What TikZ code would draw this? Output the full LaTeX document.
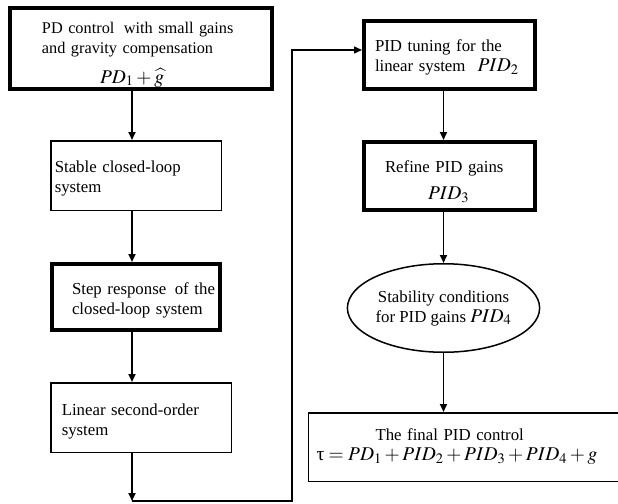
\documentclass[tikz,border=0pt]{standalone}
\usepackage{mathptmx}
\usepackage{fontspec}
\setmainfont{Liberation Serif}
\usepackage{tikz}
\usetikzlibrary{arrows.meta,positioning,shapes}

\newcommand{\mth}[1]{{\fontsize{19.5}{22}\selectfont$#1$}}

\begin{document}
\begin{tikzpicture}[
  x=1pt, y=-1pt,
  bx/.style={rectangle, draw, line width=1.5pt, inner xsep=4pt, inner ysep=2pt,
             align=left, font=\fontsize{16.8}{20}\selectfont},
  tbx/.style={bx, line width=4pt},
  dn/.style={execute at begin node={\rule{0pt}{#1}}},
  ov/.style={ellipse, draw, line width=1.5pt, inner sep=0pt, align=center,
             font=\fontsize{16.8}{20}\selectfont},
  arr/.style={-{Triangle[length=8pt,width=7pt]}, line width=1.9pt},
  fbl/.style={-{Triangle[length=8pt,width=7pt]}, line width=1.4pt}
]
  \useasboundingbox (0,0) rectangle (618,503);

  % left column
  \node[tbx, dn=23pt, font=\fontsize{16.3}{20}\selectfont, minimum width=262pt,
        minimum height=77pt, text width=254pt] (pd) at (141,48.5)
    {\hspace*{28pt}\mbox{PD control\hspace{4pt} with small gains}\\
     \hspace*{28pt}\mbox{and gravity compensation}\\[10pt]
     \hspace*{86pt}\mth{PD_1+\widehat{g}}};
  \node[bx, dn=17pt, minimum width=170.5pt, minimum height=69.5pt, text width=162.5pt] (st) at (136,175.5)
    {\mbox{Stable closed-loop}\\ system};
  \node[tbx, dn=18pt, minimum width=168pt, minimum height=66pt, text width=160pt] (sr) at (136,297)
    {\hspace*{16pt}\mbox{Step response\hspace{3pt} of the}\\
     \hspace*{16pt}\mbox{closed-loop system}};
  \node[bx, dn=19pt, minimum width=180.5pt, minimum height=69.5pt, text width=172.5pt] (ln) at (141,417.5)
    {\hspace*{7pt}\mbox{Linear second-order}\\ \hspace*{7pt}system};

  % right column
  \node[tbx, dn=16pt, minimum width=171pt, minimum height=68pt, text width=163pt] (tu) at (449.5,55)
    {\hspace*{7pt}\mbox{PID tuning for the}\\
     \hspace*{7pt}\mbox{linear system\hspace{12pt}\mth{PID_2}}};
  \node[tbx, dn=24pt, minimum width=171pt, minimum height=68pt, text width=163pt] (rf) at (449.5,176)
    {\hspace*{17pt}\mbox{Refine PID gains}\\[7pt] \hspace*{60pt}\mth{PID_3}};
  \node[ov, minimum width=181.5pt, minimum height=88.5pt] (sc) at (443.5,308)
    {Stability conditions\\ for PID gains \mth{PID_4}};
  \node[bx, minimum width=316pt, minimum height=68.5pt, text width=308pt] (fn) at (466.5,447)
    {\hspace*{63pt}\mbox{The final PID control}\\
     \hspace*{4pt}\mth{\mbox{τ} = PD_1+PID_2+PID_3+PID_4+g}};

  % connectors
  \coordinate (ax) at (132,0);
  \coordinate (fb) at (292,501);
  \draw[arr] (pd.south -| ax) -- (st.north -| ax);
  \draw[arr] (st.south -| ax) -- (sr.north -| ax);
  \draw[arr] (sr.south -| ax) -- (ln.north -| ax);
  \draw[arr] (ln.south -| ax) -- (ax |- fb);
  \draw[fbl] (ax |- fb) -- (fb) |- ([yshift=5pt]tu.west);
  \draw[arr] (tu.south -| sc.north) -- (rf.north -| sc.north);
  \draw[arr] (rf.south -| sc.north) -- (sc.north);
  \draw[arr] (sc.south) -- (fn.north -| sc.south);
\end{tikzpicture}
\end{document}
